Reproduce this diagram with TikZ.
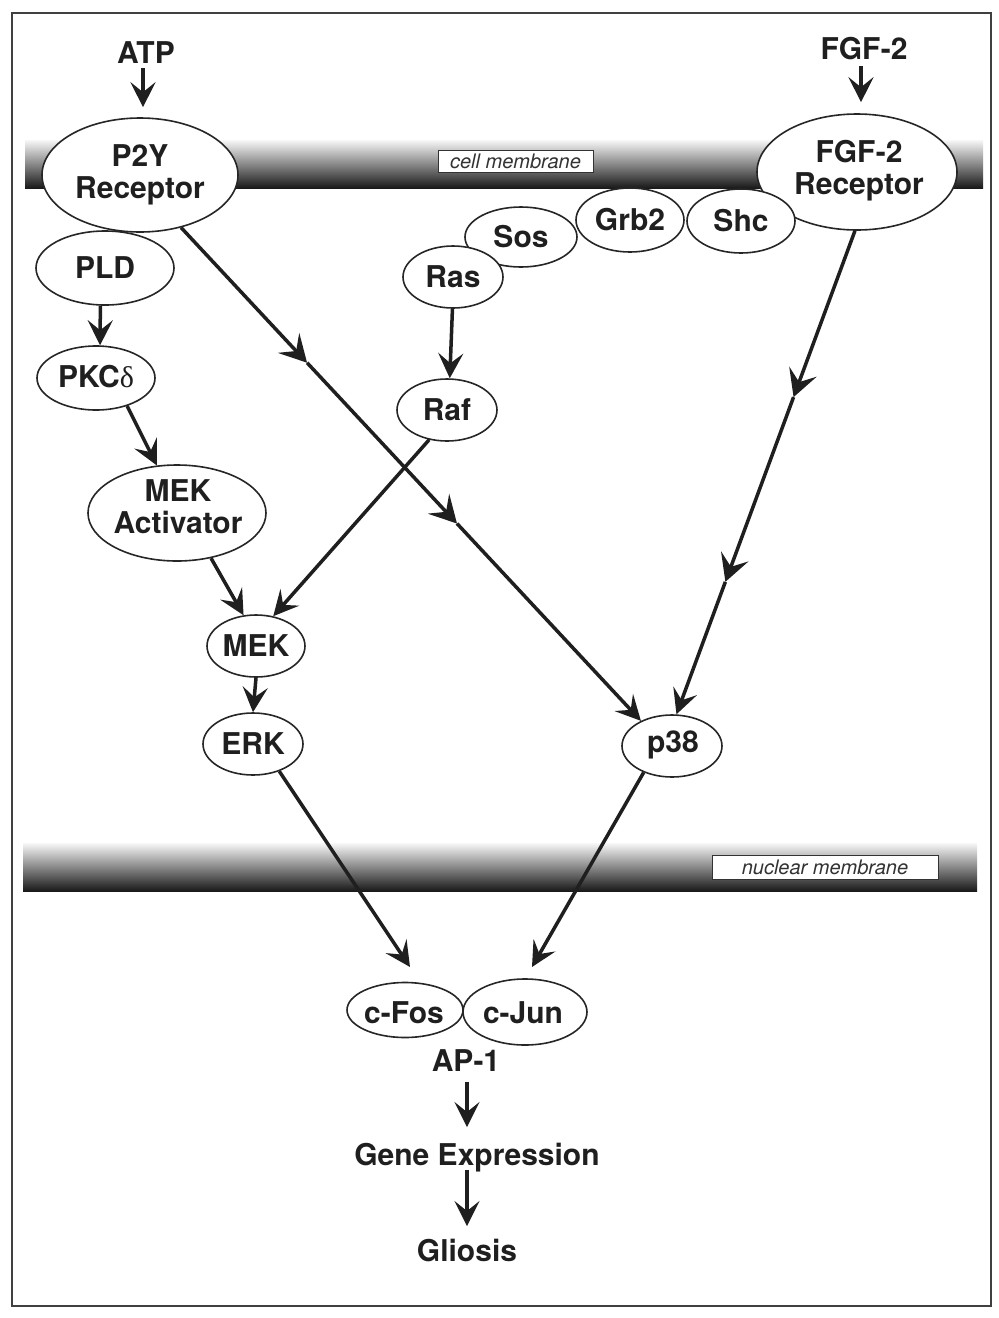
\documentclass[tikz,border=0pt]{standalone}
\usepackage{fontspec}
\setmainfont{TeX Gyre Heros}
\newfontfamily\serifdelta{Liberation Serif}
\usetikzlibrary{shapes.geometric,arrows.meta,calc}
\begin{document}
\begin{tikzpicture}[x=1pt,y=-1pt,
  ell/.style 2 args={ellipse,draw=black!85,fill=white,line width=1.6pt,minimum width=#1pt,minimum height=#2pt,inner sep=0pt},
  lbl/.style={font=\bfseries\fontsize{30}{32}\selectfont,text=black!88,inner sep=0pt,text height=21.5pt,text depth=0pt},
  lbltwo/.style={font=\bfseries\fontsize{30}{32}\selectfont,text=black!88,inner sep=0pt,align=center},
  arr/.style={color=black!88,line width=3.5pt,-{Stealth[length=25pt,width=25pt,inset=10pt]}},
  midarr/.style={color=black!88,line width=3.5pt,-{Stealth[length=27pt,width=29pt,inset=11pt]}},
  mb/.style={draw=black!80,fill=white,line width=0.9pt,inner sep=0pt,text=black!80,font=\itshape\fontsize{20}{22}\selectfont}
]
\useasboundingbox (0,0) rectangle (999,1318);
% frame
\draw[line width=1.6pt,black!75] (12,13) rectangle (991,1306);

% membranes
\shade[top color=black!3, middle color=black!30, bottom color=black!90] (25,140) rectangle (983,188);
\node[mb,minimum width=155pt,minimum height=22pt] (cmlbl) at (515.5,161) {cell membrane};
\shade[top color=black!3, middle color=black!30, bottom color=black!90] (23,843) rectangle (977,891);
\node[mb,minimum width=226pt,minimum height=24pt] (nmlbl) at (825,867) {nuclear membrane};

% ellipses
\node[ell={196}{114}] (p2y) at (140,175) {};
\node[ell={200}{116}] (fgfr) at (857,172) {};
\node[ell={138}{74}] (pld) at (105,268) {};
\node[ell={112}{60}] (sos) at (521,237) {};
\node[ell={100}{62}] (ras) at (453,277) {};
\node[ell={108}{64}] (grb2) at (630,220) {};
\node[ell={108}{64}] (shc) at (741,221) {};
\node[ell={118}{64}] (pkc) at (96,378) {};
\node[ell={178}{96}] (mekact) at (177,513) {};
\node[ell={100}{62}] (raf) at (447,410) {};
\node[ell={98}{62}] (mek) at (256,646) {};
\node[ell={100}{62}] (erk) at (253,744) {};
\node[ell={100}{62}] (p38) at (672,746) {};
\node[ell={116}{55},fill=none] (cfos) at (405,1010) {};
\node[ell={124}{66},fill=none] (cjun) at (525,1012) {};

% labels inside ellipses
\node[lbltwo] (p2yt) at (140,175) {P2Y\\Receptor};
\node[lbltwo] (fgfrt) at (859,171) {FGF-2\\Receptor};
\node[lbl] (pldt) at (pld) {PLD};
\node[lbl] (sost) at (sos) {Sos};
\node[lbl] (rast) at (ras) {Ras};
\node[lbl] (grb2t) at (grb2) {Grb2};
\node[lbl] (shct) at (shc) {Shc};
\node[lbl] (pkct) at (96,377) {PKC{\serifdelta\mdseries δ}};
\node[lbl] (raft) at (raf) {Raf};
\node[lbltwo] (mekactt) at (178,507) {MEK\\Activator};
\node[lbl] (mekt) at (mek) {MEK};
\node[lbl] (erkt) at (erk) {ERK};
\node[lbl] (p38t) at (673,742) {p38};
\node[lbl] (cfost) at (404,1013) {c-Fos};
\node[lbl] (cjunt) at (523,1013) {c-Jun};

% free text
\node[lbl] (atp) at (146,52.5) {ATP};
\node[lbl] (fgf) at (864,48.5) {FGF-2};
\node[lbl] (ap1) at (466,1061) {AP-1};
\node[lbl] (gene) at (477,1155) {Gene Expression};
\node[lbl] (gliosis) at (467,1251) {Gliosis};

\coordinate (fosin) at (410,967);
\coordinate (junin) at (532,967);
\path (p2y.-52) -- (p38.141) coordinate[pos=0.274] (pa) coordinate[pos=0.6] (pb);
\path (fgfr.-92) -- (p38.82) coordinate[pos=0.344] (fa) coordinate[pos=0.726] (fb);

% connectors
\draw[arr,shorten <=5pt,shorten >=10pt] (atp.south -| 143,0) -- (p2y.north -| 143,0);
\draw[arr,shorten <=7pt,shorten >=11pt] (fgf.south -| 861,0) -- (fgfr.north -| 861,0);
\draw[arr] (pld.-97) -- (pkc.83);
\draw[arr] (pkc.-42) -- (mekact.113);
\draw[arr] (mekact.-53) -- (mek.112);
\draw[arr] (ras.-91) -- (raf.85);
\draw[arr] (raf.-121) -- (mek.60);
\draw[arr] (mek.south) -- (erk.north);
\draw[midarr] (p2y.-52) -- (pa);
\draw[midarr] (pa) -- (pb);
\draw[arr] (pb) -- (p38.141);
\draw[midarr] (fgfr.-92) -- (fa);
\draw[midarr] (fa) -- (fb);
\draw[arr] (fb) -- (p38.82);
\draw[arr] (erk.-46) -- (fosin);
\draw[arr] (p38.-137) -- (junin);
\draw[arr,shorten <=10pt,shorten >=17pt] (ap1.south -| 467,0) -- (gene.north -| 467,0);
\draw[arr,shorten <=4pt,shorten >=14pt] (gene.south -| 467,0) -- (gliosis.north -| 467,0);
\end{tikzpicture}
\end{document}
